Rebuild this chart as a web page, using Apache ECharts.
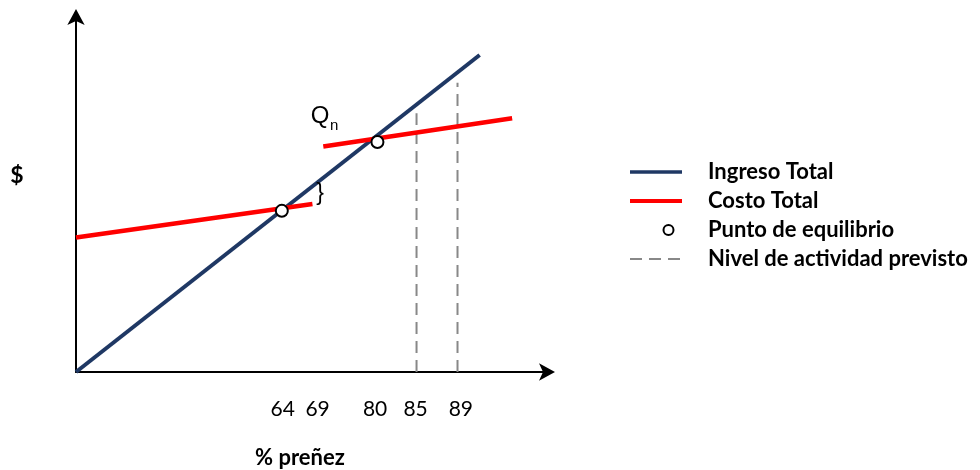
<!DOCTYPE html>
<html><head><meta charset="utf-8">
<script src="https://cdn.jsdelivr.net/npm/echarts@6/dist/echarts.min.js"></script>
<style>html,body{margin:0;padding:0;background:#fff}#c{width:980px;height:470px}</style>
</head><body><div id="c"></div>
<script>
// schematic axis units (0-100 on both axes)
const tickPositions = [43.9, 51.3, 63.5, 72.1, 81.7];
const tickLabels = ['64', '69', '80', '85', '89'];
const ingresoTotal = [[0, 0], [85.7, 89.3]];
const costoTotal = [[0, 37.9], [50.2, 47.3], ['-', '-'], [52.5, 63.5], [92.6, 71.5]];
const puntoEquilibrio = [[43.7, 45.4], [64.0, 64.8]];
const nivelPrevisto = [[72.3, 0], [72.3, 72.9], ['-', '-'], [81.0, 0], [81.0, 81.5]];
const qLabelPos = [51.8, 72.0];
const nLabelPos = [54.8, 69.4];
const bracePos = [51.8, 50.3];

const chart = echarts.init(document.getElementById('c'), null, {renderer: 'canvas'});
function tickText(v) {
  let best = 0;
  for (let i = 1; i < tickPositions.length; i++) {
    if (Math.abs(tickPositions[i] - v) < Math.abs(tickPositions[best] - v)) best = i;
  }
  return tickLabels[best];
}
const axisLineStyle = {show: true, onZero: false, symbol: ['none', 'arrow'], symbolSize: [13, 16], symbolOffset: [0, 8], lineStyle: {color: '#000', width: 2}};
chart.setOption({
  animation: false,
  grid: {left: 76, top: 17, width: 471, height: 355},
  xAxis: {
    type: 'value', min: 0, max: 100,
    axisLine: axisLineStyle,
    axisTick: {show: false},
    splitLine: {show: false},
    axisLabel: {customValues: tickPositions, formatter: tickText, color: '#000', fontFamily: 'Lato', fontSize: 21, margin: 27}
  },
  yAxis: {
    type: 'value', min: 0, max: 100,
    axisLine: axisLineStyle,
    axisTick: {show: false},
    splitLine: {show: false},
    axisLabel: {show: false}
  },
  legend: {
    orient: 'vertical', left: 628, top: 161, padding: 0,
    itemWidth: 52, itemHeight: 11, itemGap: 7,
    textStyle: {fontFamily: 'Lato', fontWeight: 'bold', fontSize: 22, color: '#000', lineHeight: 22, padding: [0, 0, 0, 21]},
    data: [
      {name: 'Ingreso Total', itemStyle: {opacity: 0}, lineStyle: {width: 3.5}},
      {name: 'Costo Total', itemStyle: {opacity: 0}, lineStyle: {width: 4}},
      {name: 'Punto de equilibrio', icon: 'path://M0,0M52,11M33.5,5.5a5,5 0 1,0 10,0a5,5 0 1,0 -10,0Z'},
      {name: 'Nivel de actividad previsto', itemStyle: {opacity: 0}, lineStyle: {width: 2}}
    ]
  },
  series: [
    {
      name: 'Nivel de actividad previsto', type: 'line', data: nivelPrevisto, symbol: 'none',
      connectNulls: false, z: 1,
      lineStyle: {color: '#888888', width: 2, type: [12, 7]}, itemStyle: {color: '#888888'}
    },
    {
      name: 'Ingreso Total', type: 'line', data: ingresoTotal, symbol: 'none', z: 2,
      lineStyle: {color: '#1f3864', width: 4}, itemStyle: {color: '#1f3864'},
      markPoint: {
        symbol: 'circle', symbolSize: 0, silent: true,
        data: [
          {coord: qLabelPos, label: {show: true, position: 'inside', formatter: 'Q', color: '#000', fontFamily: 'Liberation Sans', fontSize: 24}},
          {coord: nLabelPos, label: {show: true, position: 'inside', formatter: 'n', color: '#000', fontFamily: 'Liberation Sans', fontSize: 15}},
          {coord: bracePos, label: {show: true, position: 'inside', formatter: '}', color: '#000', fontFamily: 'Liberation Sans', fontSize: 23}}
        ]
      }
    },
    {
      name: 'Costo Total', type: 'line', data: costoTotal, symbol: 'none', connectNulls: false, z: 3,
      lineStyle: {color: '#ff0000', width: 4.5}, itemStyle: {color: '#ff0000'}
    },
    {
      name: 'Punto de equilibrio', type: 'scatter', data: puntoEquilibrio, symbol: 'circle', symbolSize: 12, z: 4,
      itemStyle: {color: '#ffffff', borderColor: '#000', borderWidth: 2, opacity: 1}
    }
  ],
  graphic: [
    {type: 'text', x: 17, y: 176, style: {text: '$', fontFamily: 'Lato', fontWeight: 'bold', fontSize: 23, fill: '#000', align: 'center', verticalAlign: 'middle'}},
    {type: 'text', x: 300, y: 458, style: {text: '% preñez', fontFamily: 'Lato', fontWeight: 'bold', fontSize: 22, fill: '#000', align: 'center', verticalAlign: 'middle'}}
  ]
});
</script>
</body></html>
